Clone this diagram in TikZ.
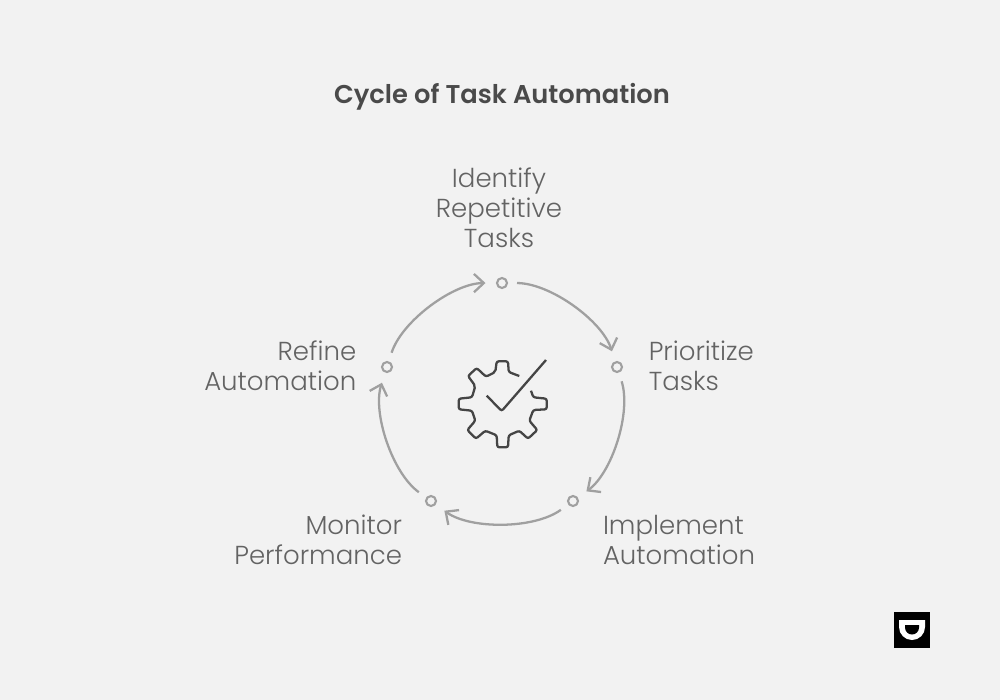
\documentclass[tikz,border=0pt]{standalone}
\usepackage{fontspec}
\setmainfont{Poppins}[UprightFont=* Light,BoldFont=* SemiBold]
\usetikzlibrary{arrows.meta, positioning}
\definecolor{bgcol}{HTML}{F2F2F2}
\definecolor{titlecol}{HTML}{4A4A4A}
\definecolor{labelcol}{HTML}{636363}
\definecolor{ringcol}{HTML}{A0A0A0}
\definecolor{iconcol}{HTML}{454545}
\begin{document}
\begin{tikzpicture}[
    x=0.01cm, y=-0.01cm,
    node distance=0.1cm,
    dot/.style={circle, draw=ringcol, line width=0.6pt, minimum size=0.1cm, inner sep=0pt},
    steptxt/.style={font=\fontsize{7.4pt}{8.53pt}\selectfont, text=labelcol, inner sep=0pt},
    headtxt/.style={font=\fontsize{7.32pt}{8.53pt}\selectfont\bfseries, text=titlecol, inner sep=0pt},
    link/.style={draw=ringcol, line width=0.65pt, looseness=0.87, shorten <=0.15cm, shorten >=0.165cm, -{Straight Barb[length=2.8pt, width=5.2pt]}},
    icon/.style={draw=iconcol, line width=0.65pt, rounded corners=0.6pt}
]
\fill[bgcol] (0,0) rectangle (1000,700);
\useasboundingbox (0,0) rectangle (1000,700);

% Title
\node[headtxt] (heading) at (502,97) {Cycle of Task Automation};

% Steps on the ring
\node[dot] (identify) at (502,283) {};
\node[dot] (prioritize) at (617,367) {};
\node[dot] (implement) at (573,501) {};
\node[dot] (monitor) at (431,501) {};
\node[dot] (refine) at (387,367) {};

% Step labels
\node[steptxt, align=center, above=0.29cm of identify, xshift=-0.03cm] (identifytxt) {Identify\\Repetitive\\Tasks};
\node[steptxt, align=left, right=0.25cm of prioritize, yshift=0.01cm] (prioritizetxt) {Prioritize\\Tasks};
\node[steptxt, align=left, below right=0.09cm and 0.25cm of implement] (implementtxt) {Implement\\Automation};
\node[steptxt, align=right, below left=0.09cm and 0.24cm of monitor] (monitortxt) {Monitor\\Performance};
\node[steptxt, align=right, left=0.24cm of refine, yshift=0.01cm] (refinetxt) {Refine\\Automation};

% Arrows
\draw[link] (identify.center) to[bend left=36] (prioritize.center);
\draw[link] (prioritize.center) to[bend left=36] (implement.center);
\draw[link] (implement.center) to[bend left=36] (monitor.center);
\draw[link] (monitor.center) to[bend left=36] (refine.center);
\draw[link] (refine.center) to[bend left=36] (identify.center);

% Gear and tick
\draw[icon] (519.3,376) -- (508.7,372) -- (508,361.3) -- (496.7,361.3) -- (495.3,372)
  -- (486,376.7) -- (476.7,368) -- (468,376) -- (475.3,386) -- (472,397.3)
  -- (458.7,398.7) -- (458.7,409.3) -- (472,410.7) -- (475.3,420.7) -- (467.3,430)
  -- (476,438.7) -- (485.3,430.7) -- (496.7,435.3) -- (497.3,447.3) -- (508,447.3)
  -- (508.7,435.3) -- (519.3,430.7) -- (528,438.7) -- (537.3,430) -- (529.3,420.7)
  -- (533.3,410) -- (546.7,409.3) -- (546.7,398.7) -- (533.3,397.3) -- (531,390.7);
\draw[icon] (486.7,395.7) -- (501.7,411) -- (546,360);

% Logo
\fill[black] (894,612) rectangle (930,648);
\fill[white] (899,620) -- (925,620) -- (925,627) arc[start angle=0, end angle=180, x radius=13, y radius=13] -- cycle;
\fill[black] (905,625) -- (919,625) -- (919,627.5) arc[start angle=0, end angle=180, x radius=7, y radius=7] -- cycle;
\end{tikzpicture}
\end{document}
